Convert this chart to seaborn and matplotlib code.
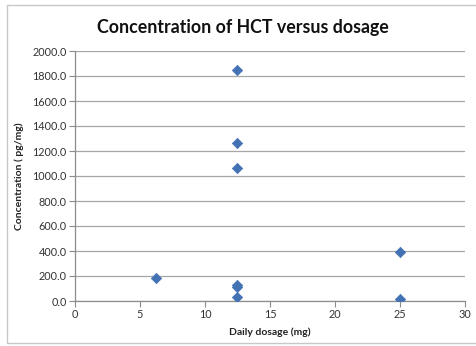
import matplotlib
matplotlib.use("Agg")
import matplotlib.pyplot as plt
import seaborn as sns
import pandas as pd
from matplotlib.patches import Rectangle

# Daily dosage (mg) and measured HCT concentration (pg/mg)
dosage = [12.5, 12.5, 12.5, 6.25, 12.5, 12.5, 12.5, 25, 25]
concentration = [1845, 1262, 1062, 185, 128, 110, 35, 392, 15]

x_ticks = [0, 5, 10, 15, 20, 25, 30]
y_ticks = [0, 200, 400, 600, 800, 1000, 1200, 1400, 1600, 1800, 2000]

df = pd.DataFrame({"dosage": dosage, "concentration": concentration})

sns.set_theme(style="white")
plt.rcParams["font.family"] = ["Lato", "DejaVu Sans"]

fig = plt.figure(figsize=(4.77, 3.46), dpi=100)
fig.patch.set_facecolor("white")

# chart frame
fig.add_artist(Rectangle((7 / 477, 3 / 346), 480 / 477, 338 / 346,
                         transform=fig.transFigure, fill=False,
                         edgecolor="#c8c8c8", linewidth=1.0))

ax = fig.add_axes([75 / 477, 1 - 301 / 346, 390 / 477, 250 / 346])
sns.scatterplot(data=df, x="dosage", y="concentration", ax=ax,
                marker="D", s=28, color="#4272B4", edgecolor="#4272B4",
                linewidth=0.5, zorder=3)

ax.set_xlim(0, 30)
ax.set_ylim(0, 2000)
ax.set_xticks(x_ticks)
ax.set_yticks(y_ticks)
ax.set_xticklabels([str(t) for t in x_ticks], fontsize=7.8, color="#333333")
ax.set_yticklabels([f"{t:.1f}" for t in y_ticks], fontsize=7.8, color="#333333")

ax.yaxis.grid(True, color="#a6a6a6", linewidth=0.9)
ax.set_axisbelow(True)
for side in ["top", "right"]:
    ax.spines[side].set_visible(False)
for side in ["left", "bottom"]:
    ax.spines[side].set_color("#8c8c8c")
    ax.spines[side].set_linewidth(0.9)
ax.tick_params(axis="both", length=4, width=0.8, color="#8c8c8c",
               direction="out", pad=2, left=True, bottom=True)

ax.set_xlabel("Daily dosage (mg)", fontsize=7.5, fontweight="bold",
              color="#222222", labelpad=5)
ax.set_ylabel("Concentration ( pg/mg)", fontsize=7.5, fontweight="bold",
              color="#222222", labelpad=6)

fig.text(243 / 477, 1 - 27 / 346, "Concentration of HCT versus dosage",
         ha="center", va="center", fontsize=12.8, fontweight="bold",
         color="#111111")

fig.savefig("out.png", dpi=100)
